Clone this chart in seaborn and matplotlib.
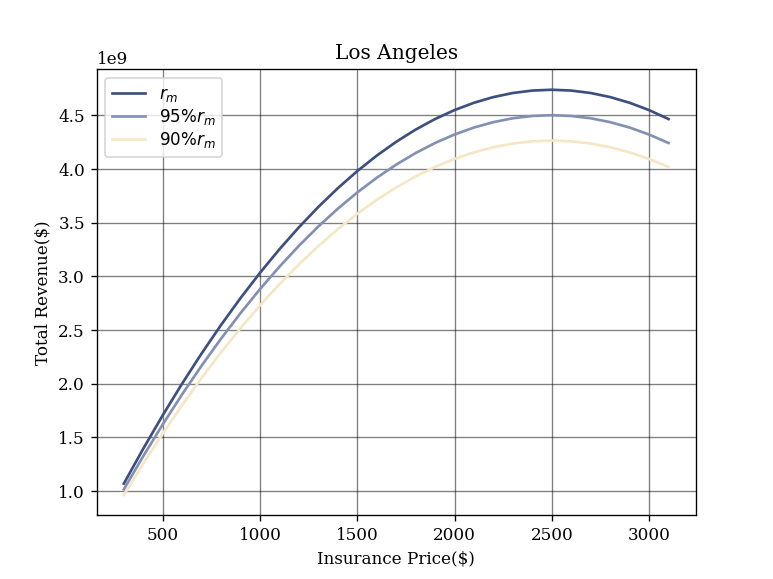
import numpy as np
import pandas as pd
import matplotlib
matplotlib.use("Agg")
import matplotlib.pyplot as plt
import seaborn as sns

price = [300, 400, 500, 600, 700, 800, 900, 1000, 1100, 1200, 1300, 1400, 1500,
         1600, 1700, 1800, 1900, 2000, 2100, 2200, 2300, 2400, 2500, 2600, 2700,
         2800, 2900, 3000, 3100]
rev_rm = [1.0693, 1.3955, 1.7064, 2.0022, 2.2828, 2.5482, 2.7985, 3.0336, 3.2535,
          3.4583, 3.6479, 3.8223, 3.9816, 4.1257, 4.2546, 4.3684, 4.4670, 4.5504,
          4.6187, 4.6717, 4.7097, 4.7324, 4.7400, 4.7324, 4.7097, 4.6717, 4.6187,
          4.5504, 4.4670]
rev_95 = [1.0158, 1.3257, 1.6211, 1.9021, 2.1687, 2.4208, 2.6586, 2.8819, 3.0908,
          3.2854, 3.4655, 3.6312, 3.7825, 3.9194, 4.0419, 4.1500, 4.2437, 4.3229,
          4.3878, 4.4381, 4.4742, 4.4958, 4.5030, 4.4958, 4.4742, 4.4381, 4.3878,
          4.3229, 4.2437]
rev_90 = [0.9624, 1.2560, 1.5358, 1.8020, 2.0545, 2.2934, 2.5187, 2.7302, 2.9282,
          3.1125, 3.2831, 3.4401, 3.5834, 3.7131, 3.8291, 3.9316, 4.0203, 4.0954,
          4.1568, 4.2045, 4.2387, 4.2592, 4.2660, 4.2592, 4.2387, 4.2045, 4.1568,
          4.0954, 4.0203]
labels = [r'$r_m$', r'95%$r_m$', r'90%$r_m$']
colors = ['#3d4f7e', '#8290b2', '#f5e7c6']

plt.rcParams['font.family'] = ['DejaVu Serif']

rows = []
for lab, vals in zip(labels, [rev_rm, rev_95, rev_90]):
    for p, v in zip(price, vals):
        rows.append({'price': p, 'revenue': v * 1e9, 'series': lab})
df = pd.DataFrame(rows)

dpi = 120.7
fig, ax = plt.subplots(figsize=(773 / dpi, 579 / dpi), dpi=dpi)
sns.lineplot(data=df, x='price', y='revenue', hue='series', hue_order=labels,
             palette=colors, linewidth=1.6, ax=ax)

ax.grid(True, color='black', alpha=0.5, linewidth=0.8)
ax.set_axisbelow(True)
ax.set_title('Los Angeles')
ax.set_xlabel('Insurance Price($)')
ax.set_ylabel('Total Revenue($)')
ax.legend(loc='upper left', prop={'family': 'DejaVu Sans'}, labelspacing=0.2)

fig.savefig('out.png', dpi=dpi)
